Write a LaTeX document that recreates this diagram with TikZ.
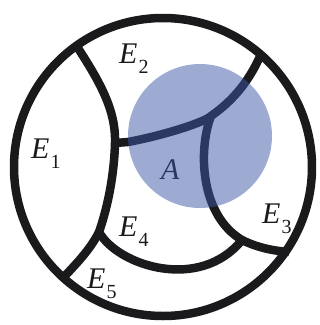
\documentclass[tikz,border=0pt]{standalone}
\usepackage{fontspec}
\setmainfont{Liberation Serif}
\definecolor{inkc}{RGB}{26,26,28}
\definecolor{bluec}{RGB}{60,88,168}
\newcommand\elab[1]{\textit{E}\hspace{1pt}\raisebox{-10pt}{\fontsize{20}{20}\selectfont #1}}
\begin{document}
\begin{tikzpicture}[x=1pt,y=-1pt,
  wall/.style={draw=inkc,line width=8.5pt,line join=round},
  lab/.style={anchor=base west,inner sep=0pt,font=\fontsize{30}{30}\selectfont,text=inkc}]
\useasboundingbox (0,0) rectangle (320,325);
% outer circle
\node[wall,circle,minimum size=298pt,inner sep=0pt] (outer) at (163,167) {};
% junction points
\coordinate (j1) at (115,143);
\coordinate (j2) at (99,232);
\coordinate (j3) at (211,116);
\coordinate (j4) at (242,240);
% boundaries
\draw[wall] (76,45) .. controls (100,82) and (116,110) .. (j1)
  .. controls (114,180) and (106,212) .. (j2)
  .. controls (90,250) and (76,264) .. (62,279);
\draw[wall] (j1) -- (128,142) .. controls (165,135) and (205,122) .. (j3)
  .. controls (234,100) and (250,80) .. (262,52);
\draw[wall] (j3) .. controls (198,150) and (200,215) .. (j4)
  .. controls (258,248) and (275,251) .. (289,252);
\draw[wall] (j2) .. controls (118,266) and (200,292) .. (j4);
% labels
\node[lab] (e1) at (31,158) {\elab{1}};
\node[lab] (e2) at (119,63) {\elab{2}};
\node[lab] (e3) at (262,223) {\elab{3}};
\node[lab] (e4) at (119,236) {\elab{4}};
\node[lab] (e5) at (87,288) {\elab{5}};
\node[lab] (a) at (161,179) {\textit{A}};
% event A
\node[circle,fill=bluec,fill opacity=0.5,minimum size=144pt,inner sep=0pt] (evA) at (200,136) {};
\end{tikzpicture}
\end{document}
